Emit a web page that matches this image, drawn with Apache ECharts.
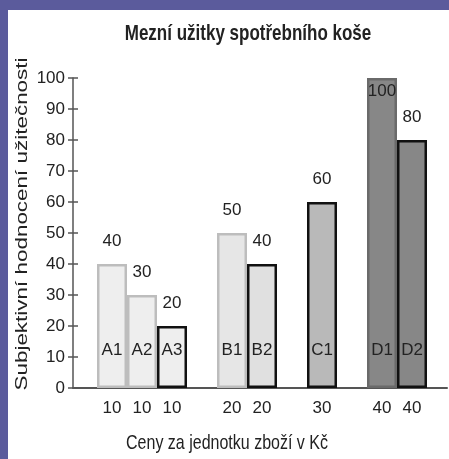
<!DOCTYPE html>
<html>
<head>
<meta charset="utf-8">
<script src="https://cdn.jsdelivr.net/npm/echarts@6/dist/echarts.min.js"></script>
<style>
  html, body { margin: 0; padding: 0; background: #5b5b9c; }
  #chart { width: 449px; height: 459px; }
</style>
</head>
<body>
<div id="chart"></div>
<script>
// data: blank '' entries are the gaps between groups
const names = ['A1', 'A2', 'A3', '', 'B1', 'B2', '', 'C1', '', 'D1', 'D2']
const prices = [10, 10, 10, null, 20, 20, null, 30, null, 40, 40]
const values = [40, 30, 20, null, 50, 40, null, 60, null, 100, 80]
const yTicks = [0, 10, 20, 30, 40, 50, 60, 70, 80, 90, 100]

// looks per bar
const looks = {
  A1: { fill: '#eeeeee', border: '#bdbdbd' },
  A2: { fill: '#eeeeee', border: '#bdbdbd' },
  A3: { fill: '#eeeeee', border: '#111111' },
  B1: { fill: '#e6e6e6', border: '#bdbdbd' },
  B2: { fill: '#e0e0e0', border: '#111111' },
  C1: { fill: '#b9b9b9', border: '#111111' },
  D1: { fill: '#878787', border: '#6a6a6a' },
  D2: { fill: '#878787', border: '#111111' },
}

const FONT = 'Liberation Sans, Arial, sans-serif'

const maxVal = Math.max(...values.filter((x) => x != null))
const mainData = values.map((v, i) => {
  if (v == null) return null
  const lk = looks[names[i]]
  const item = {
    value: v,
    itemStyle: { color: lk.fill, borderColor: lk.border, borderWidth: 2.5 },
  }
  if (v === maxVal) {
    item.label = { position: 'insideTop', distance: 5 }
  }
  return item
})

const chart = echarts.init(document.getElementById('chart'))

chart.setOption({
  animation: false,
  backgroundColor: '#5b5b9c',
  graphic: [
    {
      type: 'rect',
      z: -10,
      shape: { x: 8, y: 10, width: 441, height: 449 },
      style: { fill: '#ffffff' },
    },
    {
      // title, stretched a bit taller like the original
      type: 'text',
      x: 248,
      y: 34,
      scaleY: 1.3,
      style: {
        text: 'Mezní užitky spotřebního koše',
        fontFamily: FONT,
        fontSize: 17,
        fontWeight: 'bold',
        fill: '#222',
        align: 'center',
        verticalAlign: 'middle',
      },
    },
    {
      // x axis name
      type: 'text',
      x: 227,
      y: 443,
      scaleY: 1.3,
      style: {
        text: 'Ceny za jednotku zboží v Kč',
        fontFamily: FONT,
        fontSize: 16,
        fill: '#222',
        align: 'center',
        verticalAlign: 'middle',
      },
    },
    {
      // y axis name
      type: 'text',
      x: 22,
      y: 224,
      rotation: Math.PI / 2,
      scaleX: 1.32,
      style: {
        text: 'Subjektivní hodnocení užitečnosti',
        fontFamily: FONT,
        fontSize: 17,
        fill: '#222',
        align: 'center',
        verticalAlign: 'middle',
      },
    },
  ],
  grid: [
    { left: 73, right: 2, top: 78, bottom: 71 },
    { left: 97, width: 330, top: 78, bottom: 71 },
  ],
  xAxis: [
    {
      gridIndex: 0,
      type: 'value',
      min: 0,
      max: 1,
      axisLine: { show: true, lineStyle: { color: '#555', width: 2 } },
      axisTick: { show: false },
      axisLabel: { show: false },
      splitLine: { show: false },
    },
    {
      gridIndex: 1,
      type: 'category',
      data: names,
      axisLine: { show: false },
      axisTick: { show: false },
      axisLabel: {
        margin: 12,
        fontFamily: FONT,
        fontSize: 17,
        color: '#222',
        interval: 0,
        formatter: (v, i) => (prices[i] == null ? '' : String(prices[i])),
      },
    },
  ],
  yAxis: [
    {
      gridIndex: 0,
      type: 'value',
      min: 0,
      max: 100,
      interval: 10,
      axisLine: { show: true, lineStyle: { color: '#555', width: 1.5 } },
      axisTick: { show: true, length: 5, lineStyle: { color: '#555', width: 1.5 } },
      axisLabel: {
        margin: 8,
        fontFamily: FONT,
        fontSize: 17,
        color: '#222',
        customValues: yTicks,
      },
      splitLine: { show: false },
    },
    {
      gridIndex: 0,
      type: 'value',
      min: 0,
      max: 100,
      interval: 10,
      position: 'left',
      axisLine: { show: false },
      axisTick: { show: true, inside: true, length: 5, lineStyle: { color: '#555', width: 1.5 } },
      axisLabel: { show: false },
      splitLine: { show: false },
    },
    {
      gridIndex: 1,
      type: 'value',
      min: 0,
      max: 100,
      show: false,
    },
  ],
  series: [
    {
      type: 'bar',
      xAxisIndex: 1,
      yAxisIndex: 2,
      barWidth: 30,
      barGap: '-100%',
      data: mainData,
      label: {
        show: true,
        position: 'top',
        distance: 14,
        fontFamily: FONT,
        fontSize: 17,
        color: '#222',
      },
    },
    {
      type: 'bar',
      xAxisIndex: 1,
      yAxisIndex: 2,
      barWidth: 30,
      barGap: '-100%',
      silent: true,
      data: values,
      itemStyle: { color: 'rgba(0,0,0,0)' },
      label: {
        show: true,
        position: 'insideBottom',
        distance: 29,
        fontFamily: FONT,
        fontSize: 17,
        color: '#222',
        formatter: (p) => names[p.dataIndex],
      },
    },
  ],
})
</script>
</body>
</html>
